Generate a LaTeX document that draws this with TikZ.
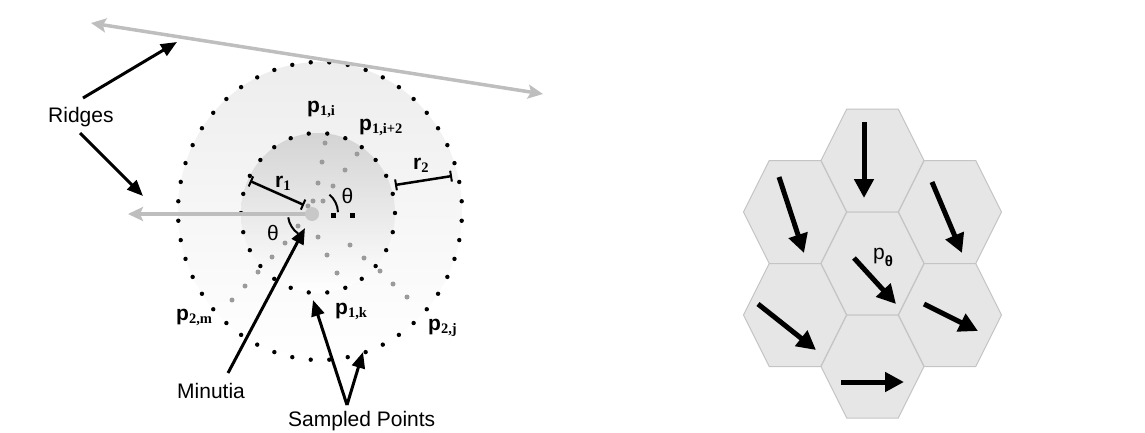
\documentclass[tikz,border=0pt]{standalone}
\usepackage{fontspec}
\setmainfont{Liberation Sans}
\newfontfamily\serifb{Liberation Serif}
\usetikzlibrary{arrows.meta}
\definecolor{ridgegray}{RGB}{190,190,190}
\definecolor{hexfill}{RGB}{230,230,230}
\definecolor{hexline}{RGB}{196,196,196}
\definecolor{graydot}{RGB}{155,155,155}
\definecolor{minutgray}{RGB}{200,200,200}
\newcommand\hexcellat[1]{\path[hexcell] (#1) +(-51.5,0) -- +(-25.75,-51.5) -- +(25.75,-51.5) -- +(51.5,0) -- +(25.75,51.5) -- +(-25.75,51.5) -- cycle;}
\newcommand\psubb[2]{#1\raisebox{-3.5pt}{\serifb\bfseries\fontsize{14.5}{15}\selectfont #2}}
\begin{document}
\begin{tikzpicture}[x=1pt,y=-1pt,
  lbl/.style={inner sep=0pt, font=\fontsize{21}{24}\selectfont},
  plbl/.style={inner sep=0pt, anchor=base west, font=\bfseries\fontsize{21}{24}\selectfont},
  blkarrow/.style={line width=3pt, -{Triangle[length=16pt,width=13pt]}},
  grayarrow/.style={draw=ridgegray, line width=3.5pt},
  hexarrow/.style={line width=5pt, -{Triangle[length=19pt,width=19pt]}},
  hexcell/.style={fill=hexfill, draw=hexline, line width=1pt},
  gdot/.style={fill=graydot},
  bardim/.style={line width=2.5pt, {Bar[width=11pt,line width=2pt]}-{Bar[width=11pt,line width=2pt]}},
]
\useasboundingbox (0,0) rectangle (1145,432);

% ---------- left diagram ----------
\shade[top color=gray!14, middle color=gray!11, bottom color=white] (320,211) ellipse [x radius=142, y radius=149];
\shade[top color=gray!34, middle color=gray!20, bottom color=white] (318,213) ellipse [x radius=77, y radius=80];

% gray sampled dots
\foreach \p in {(313,201),(323,201),(318,183),(322,162),(325,143),
  (333,186),(345,170),(357,154),
  (318,237),(327,255),(337,273),
  (350,245),(364,258),(380,271),(393,284),(407,297),
  (298,226),(285,243),(272,257),(258,272),(245,286),(232,300),(308,206)}
  \fill[gdot] \p circle[radius=2.5];

% dotted rings
\foreach \k in {0,...,47}
  \fill (320,211) ++({93.75+7.5*\k}:142 and 149) circle[radius=2.2];
\foreach \k in {0,...,25}
  \fill (318,213) ++({96.923+13.846*\k}:77 and 80) circle[radius=2.2];
\fill (330.5,212.5) rectangle (335.5,217.5);
\fill (349.5,212.5) rectangle (354.5,217.5);

% ridges
\coordinate (rl) at (91,23);
\coordinate (rr) at (543,94);
\draw[grayarrow, {Stealth[length=15pt,width=14pt,inset=3pt]}-{Stealth[length=15pt,width=14pt,inset=3pt]}] (rl) -- (rr);
\coordinate (mc) at (312,214);
\coordinate (hl) at (128,214);
\draw[grayarrow, -{Stealth[length=15pt,width=14pt,inset=3pt]}] (mc) -- (hl);
\node[circle, fill=minutgray, minimum size=14pt, inner sep=0pt] (minut) at (mc) {};

% radii
\coordinate (r1a) at (250,181);
\coordinate (r1b) at (304,205);
\draw[bardim] (r1a) -- (r1b);
\coordinate (r2a) at (395,185);
\coordinate (r2b) at (452,176);
\draw[bardim] (r2a) -- (r2b);

% theta arcs
\draw[line width=2pt] (314,213) ++(-2:24) arc[start angle=-2, end angle=-50, radius=24];
\draw[line width=2pt] (312,214) ++(172:24) arc[start angle=172, end angle=125, radius=24];

% labels
\node[lbl, anchor=base west] (ridges) at (48,122) {Ridges};
\node[lbl, anchor=base west] (minutia) at (177,398) {Minutia};
\node[lbl, anchor=base west] (sampled) at (288,426) {Sampled Points};
\node[lbl] (th1) at (347.5,195.5) {θ};
\node[lbl] (th2) at (273,233) {θ};
\node[plbl] (p1i) at (307,112) {\psubb{p}{1,i}};
\node[plbl] (p1i2) at (359,130) {\psubb{p}{1,i+2}};
\node[plbl] (r1) at (275,187) {\psubb{r}{1}};
\node[plbl] (r2) at (413,169) {\psubb{r}{2}};
\node[plbl] (p2m) at (176,320) {\psubb{p}{2,m}};
\node[plbl] (p1k) at (335,314) {\psubb{p}{1,k}};
\node[plbl] (p2j) at (428,330) {\psubb{p}{2,j}};

% black arrows
\coordinate (ra1) at (83,98);
\coordinate (rt1) at (177,42);
\coordinate (ra2) at (80,133);
\coordinate (rt2) at (143,196);
\draw[blkarrow] (ra1) -- (rt1);
\draw[blkarrow] (ra2) -- (rt2);
\coordinate (ma) at (228,373);
\coordinate (mt) at (305,228);
\draw[blkarrow] (ma) -- (mt);
\coordinate (sa) at (347,405);
\coordinate (st1) at (313,300);
\coordinate (st2) at (363,352);
\draw[blkarrow] (sa) -- (st1);
\draw[blkarrow] (sa) -- (st2);

% ---------- hexagon diagram ----------
\coordinate (hT) at (872.5,160.5);
\coordinate (hC) at (872.5,263.5);
\coordinate (hB) at (872.5,366.5);
\coordinate (hUL) at (795,212);
\coordinate (hLL) at (795,315);
\coordinate (hUR) at (950,212);
\coordinate (hLR) at (950,315);
\hexcellat{hT}\hexcellat{hC}\hexcellat{hB}\hexcellat{hUL}\hexcellat{hLL}\hexcellat{hUR}\hexcellat{hLR}

\coordinate (a1s) at (864,122); \coordinate (a1e) at (864,198);
\coordinate (a2s) at (779,177); \coordinate (a2e) at (804,253);
\coordinate (a3s) at (932,182); \coordinate (a3e) at (962,253);
\coordinate (a4s) at (854,258); \coordinate (a4e) at (896,304);
\coordinate (a5s) at (758,304); \coordinate (a5e) at (816,350);
\coordinate (a6s) at (924,304); \coordinate (a6e) at (978,331);
\coordinate (a7s) at (841,382); \coordinate (a7e) at (904,382);
\draw[hexarrow] (a1s) -- (a1e);
\draw[hexarrow] (a2s) -- (a2e);
\draw[hexarrow] (a3s) -- (a3e);
\draw[hexarrow] (a4s) -- (a4e);
\draw[hexarrow] (a5s) -- (a5e);
\draw[hexarrow] (a6s) -- (a6e);
\draw[hexarrow] (a7s) -- (a7e);
\node[lbl, anchor=base west] (ptheta) at (873,259) {p\raisebox{-7pt}{\fontsize{15}{15}\selectfont\bfseries θ}};
\end{tikzpicture}
\end{document}
